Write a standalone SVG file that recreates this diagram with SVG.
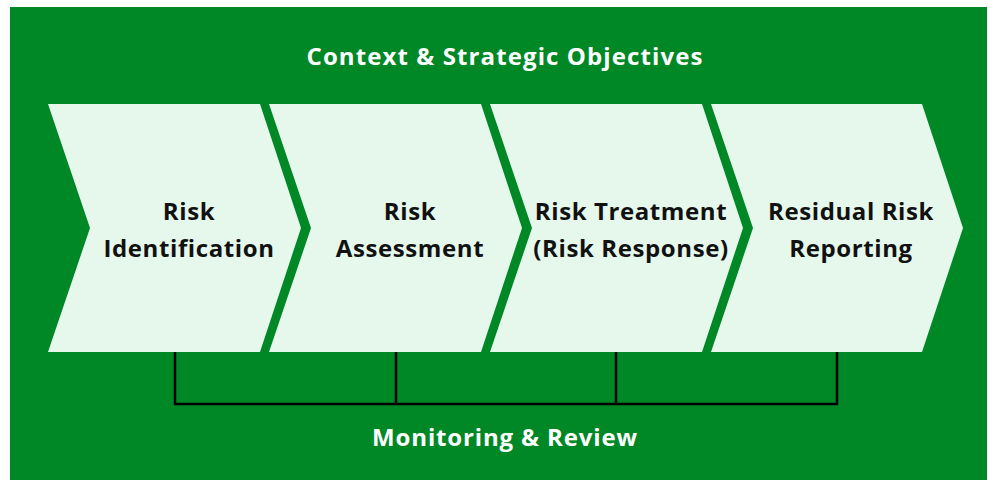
<svg xmlns="http://www.w3.org/2000/svg" width="988" height="480" viewBox="0 0 988 480">
  <style>
    .bg { fill: #008827; }
    .step { fill: #E5F8EB; }
    .title { font-family: "Open Sans", Lato, sans-serif; font-weight: 700; font-size: 24px; fill: #FFFFFF; text-anchor: middle; }
    .label { font-family: "Open Sans", Lato, sans-serif; font-weight: 700; font-size: 24px; letter-spacing: 0.6px; fill: #111111; text-anchor: middle; }
    .link { stroke: #000000; stroke-width: 2.5; fill: none; }
  </style>

  <rect class="bg" x="10" y="7" width="977" height="473"/>

  <text class="title" x="505" y="65" letter-spacing="1.1">Context &amp; Strategic Objectives</text>

  <g id="connectors">
    <path class="link" d="M175 352 V404 H837 V352 M396 352 V404 M616 352 V404"/>
  </g>

  <g id="step-identification">
    <polygon class="step" points="48,104 260,104 301,228 260,352 48,352 90,228"/>
    <text class="label" x="189" y="220">Risk</text>
    <text class="label" x="189" y="257">Identification</text>
  </g>

  <g id="step-assessment">
    <polygon class="step" points="269,104 481,104 522,228 481,352 269,352 311,228"/>
    <text class="label" x="410" y="220">Risk</text>
    <text class="label" x="410" y="257">Assessment</text>
  </g>

  <g id="step-treatment">
    <polygon class="step" points="490,104 702,104 743,228 702,352 490,352 532,228"/>
    <text class="label" x="631" y="220">Risk Treatment</text>
    <text class="label" x="631" y="257">(Risk Response)</text>
  </g>

  <g id="step-reporting">
    <polygon class="step" points="711,104 922,104 963,228 922,352 711,352 753,228"/>
    <text class="label" x="851" y="220">Residual Risk</text>
    <text class="label" x="851" y="257">Reporting</text>
  </g>

  <text class="title" x="505" y="446" letter-spacing="0.85">Monitoring &amp; Review</text>
</svg>
